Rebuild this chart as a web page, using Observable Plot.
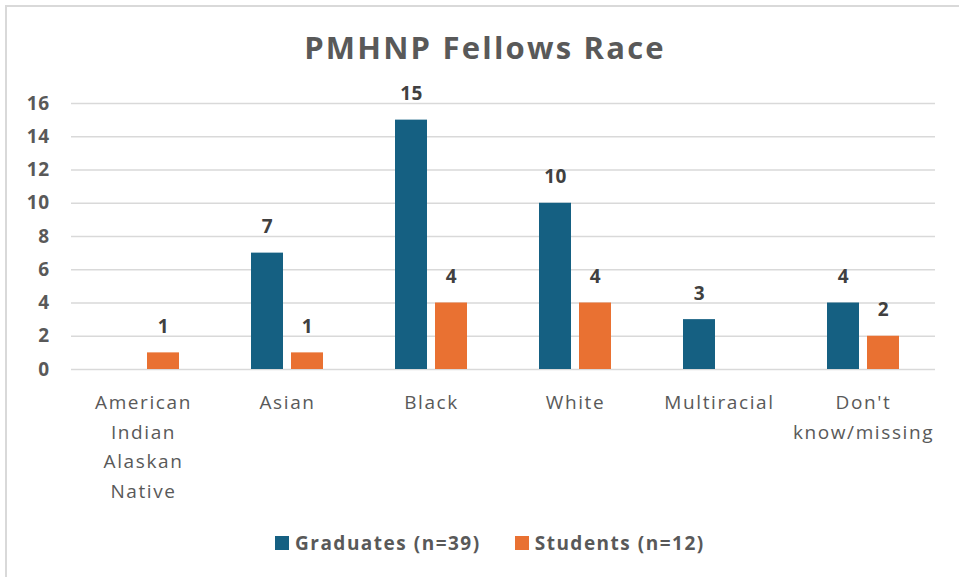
<!DOCTYPE html>
<html>
<head>
<meta charset="utf-8">
<script src="https://cdn.jsdelivr.net/npm/d3@7"></script>
<script src="https://cdn.jsdelivr.net/npm/@observablehq/plot@0.6"></script>
<style>
  html, body { margin: 0; padding: 0; background: #fff; }
  #wrap { position: relative; width: 959px; height: 577px; overflow: hidden; font-family: "Open Sans", sans-serif; }
  #frame { position: absolute; left: 5px; top: 5px; width: 1000px; height: 1000px; border-left: 2px solid #d9d9d9; border-top: 2px solid #d9d9d9; box-sizing: border-box; }
  #title { position: absolute; left: 0; top: 27px; width: 970px; text-align: center; font-size: 31px; font-weight: 700; color: #595959; line-height: 40px; letter-spacing: 2.2px; }
  #chart { position: absolute; left: 0; top: 70px; }
  #legend { position: absolute; left: 275px; top: 530px; display: flex; align-items: center; font-size: 19px; font-weight: 700; color: #595959; letter-spacing: 1.5px; }
  .sw { width: 14px; height: 14px; display: inline-block; margin-right: 6px; }
  .item { display: flex; align-items: center; margin-right: 34px; }
  #chart g[aria-label="fx-axis tick label"] text { letter-spacing: 1.6px; }
  #chart g[aria-label="y-axis tick label"] text { letter-spacing: 0.5px; }
  #chart g[aria-label="text"] text { letter-spacing: 0.5px; }
</style>
</head>
<body>
<div id="wrap">
  <div id="frame"></div>
  <div id="title">PMHNP Fellows Race</div>
  <div id="chart"></div>
  <div id="legend"></div>
</div>
<script>
const categories = ["American Indian Alaskan Native", "Asian", "Black", "White", "Multiracial", "Don't know/missing"];
const categoryLabels = ["American\nIndian\nAlaskan\nNative", "Asian", "Black", "White", "Multiracial", "Don't\nknow/missing"];
const series = ["Graduates (n=39)", "Students (n=12)"];
const graduates = [null, 7, 15, 10, 3, 4];
const students = [1, 1, 4, 4, null, 2];
const yTicks = [0, 2, 4, 6, 8, 10, 12, 14, 16];
const colors = ["#156082", "#E97132"];

const data = [];
categories.forEach((c, i) => {
  if (graduates[i] != null) data.push({category: c, series: series[0], value: graduates[i]});
  if (students[i] != null) data.push({category: c, series: series[1], value: students[i]});
});

const labelOf = new Map(categories.map((c, i) => [c, categoryLabels[i]]));

const chart = Plot.plot({
  width: 959,
  height: 440,
  marginLeft: 70,
  marginRight: 23,
  marginTop: 33,
  marginBottom: 141,
  style: {fontFamily: "'Open Sans', sans-serif", background: "transparent"},
  fx: {domain: categories, padding: 0, label: null},
  x: {domain: series, paddingInner: 0.2, paddingOuter: 0.86, axis: null},
  y: {domain: [0, 16], label: null},
  color: {domain: series, range: colors},
  marks: [
    Plot.gridY(yTicks, {stroke: "#d9d9d9", strokeOpacity: 1, strokeWidth: 1.5}),
    Plot.axisY(yTicks, {tickSize: 0, tickPadding: 22, fontSize: 19, fontWeight: "bold", fill: "#595959", label: null}),
    Plot.axisFx({anchor: "bottom", tickSize: 0, tickPadding: 18, fontSize: 19, fill: "#595959", lineHeight: 1.57, tickFormat: d => labelOf.get(d), label: null}),
    Plot.barY(data, {fx: "category", x: "series", y: "value", fill: "series"}),
    Plot.text(data, {fx: "category", x: "series", y: "value", text: d => String(d.value), lineAnchor: "bottom", dy: -20, fontSize: 19, fontWeight: "bold", fill: "#404040"})
  ]
});
document.getElementById("chart").appendChild(chart);

const legend = document.getElementById("legend");
series.forEach((s, i) => {
  const item = document.createElement("div");
  item.className = "item";
  const sw = document.createElement("span");
  sw.className = "sw";
  sw.style.background = colors[i];
  const t = document.createElement("span");
  t.textContent = s;
  item.appendChild(sw);
  item.appendChild(t);
  legend.appendChild(item);
});
</script>
</body>
</html>
